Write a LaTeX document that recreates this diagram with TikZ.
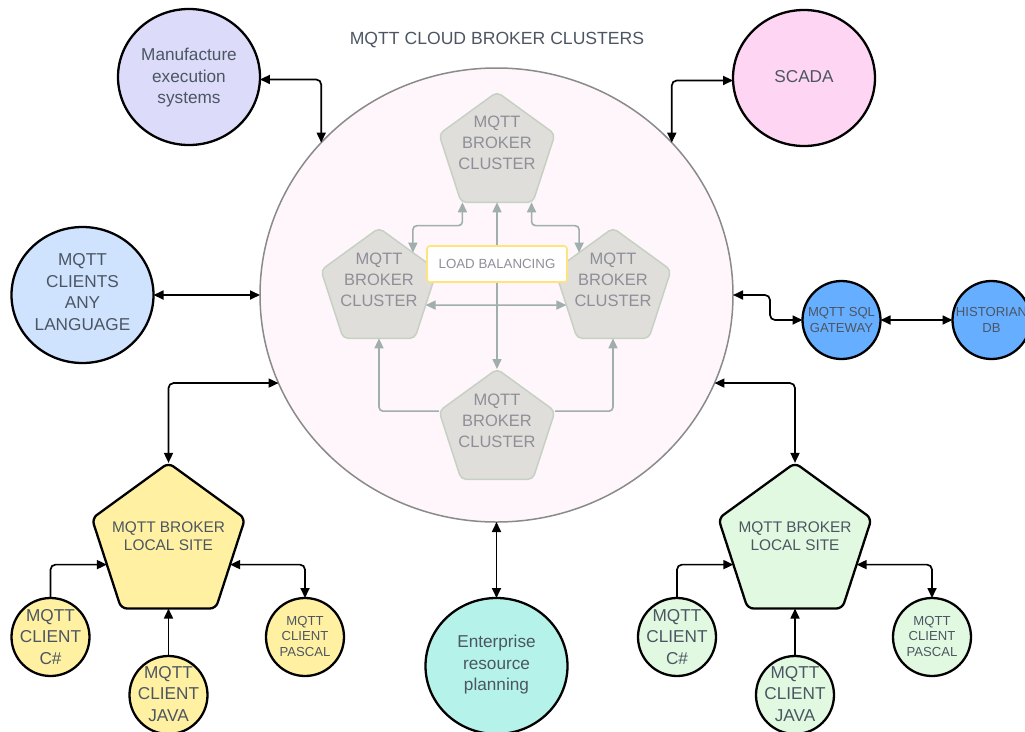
\documentclass[tikz,border=0pt]{standalone}
\usepackage{fontspec}
\setmainfont{Liberation Sans}
\usetikzlibrary{shapes.geometric,arrows.meta}
\definecolor{txtc}{HTML}{4C5662}
\definecolor{gtxt}{HTML}{8E8F98}
\definecolor{cloudfill}{HTML}{FEF6FA}
\definecolor{cloudline}{HTML}{8A8A8A}
\definecolor{gfill}{HTML}{DFDEDA}
\definecolor{gline}{HTML}{C6D1C4}
\definecolor{garrow}{HTML}{A0AFAB}
\definecolor{lbline}{HTML}{FFE37C}
\definecolor{mesfill}{HTML}{DCDCFA}
\definecolor{scadafill}{HTML}{FFD5F4}
\definecolor{calfill}{HTML}{CFE3FF}
\definecolor{erpfill}{HTML}{B5F3EA}
\definecolor{bluefill}{HTML}{66AEFF}
\definecolor{yelfill}{HTML}{FFF1A1}
\definecolor{grnfill}{HTML}{E2F9E1}
\tikzset{
  >={Triangle[length=10pt,width=9pt]},
  bigc/.style={ellipse, draw=black, line width=2.3pt, minimum width=142pt, minimum height=136pt, inner sep=0pt, outer sep=0pt},
  smallc/.style={circle, draw=black, line width=2.3pt, minimum size=78pt, inner sep=0pt, outer sep=0pt},
  pent/.style={regular polygon, regular polygon sides=5, minimum size=161pt, inner sep=0pt, outer sep=0pt, draw=black, line width=2.3pt, rounded corners=6pt},
  gpent/.style={regular polygon, regular polygon sides=5, minimum size=122pt, inner sep=0pt, outer sep=0pt, draw=gline, fill=gfill, line width=1.5pt, rounded corners=5pt},
  lbl/.style={text=txtc, align=center, inner sep=0pt, font=\fontsize{17.2}{21.5}\selectfont},
  slbl/.style={text=txtc, align=center, inner sep=0pt, font=\fontsize{13.1}{15.5}\selectfont},
  glbl/.style={text=gtxt, align=center, inner sep=0pt, font=\fontsize{16.5}{21}\selectfont},
  conn/.style={draw=black, line width=1.7pt, rounded corners=5pt},
  gconn/.style={draw=garrow, line width=1.6pt, rounded corners=4pt},
}
\begin{document}
\begin{tikzpicture}[x=1pt,y=-1pt]
\useasboundingbox (0,0) rectangle (1025,731);
% cloud
\node[ellipse, draw=cloudline, fill=cloudfill, line width=1.5pt, minimum width=473pt, minimum height=454pt, inner sep=0pt, outer sep=0pt] (cloud) at (496.5,295) {};
\node[text=txtc, inner sep=0pt, font=\fontsize{17.6}{21}\selectfont] (title) at (497,40) {MQTT CLOUD BROKER CLUSTERS};
% inner clusters
\node[gpent] (T) at (497,153) {};
\node[gpent] (L) at (379,289) {};
\node[gpent] (R) at (613,289) {};
\node[gpent] (B) at (497,430) {};
\node[glbl] (Tt) at (497,143) {MQTT\\BROKER\\CLUSTER};
\node[glbl] (Lt) at (379,280) {MQTT\\BROKER\\CLUSTER};
\node[glbl] (Rt) at (613,280) {MQTT\\BROKER\\CLUSTER};
\node[glbl] (Bt) at (497,421) {MQTT\\BROKER\\CLUSTER};
\draw[gconn,<->] (T.270) -- (B.90);
\draw[gconn,<->] (L.-19) -- (R.199);
\draw[gconn,<->] (L.47) -- ++(0,-27) -| (T.235);
\draw[gconn,<->] (R.133) -- ++(0,-27) -| (T.305);
\draw[gconn,->] (B.162) -| (L.270);
\draw[gconn,->] (B.18) -| (R.270);
\node[draw=lbline, fill=white, line width=1.6pt, rounded corners=3pt, minimum width=140pt, minimum height=36pt, inner sep=0pt, text=gtxt, font=\fontsize{13.3}{15}\selectfont] (lb) at (497,264) {LOAD BALANCING};
% outer systems
\node[bigc, fill=mesfill] (mes) at (189,77) {};
\node[lbl] (mest) at (189,78) {Manufacture\\execution\\systems};
\node[bigc, fill=scadafill] (scada) at (804,78) {};
\node[lbl] (scadat) at (804,77) {SCADA};
\node[bigc, fill=calfill] (cal) at (82.5,295) {};
\node[lbl] (calt) at (82.5,292) {MQTT\\CLIENTS\\ANY\\LANGUAGE};
\node[bigc, fill=erpfill] (erp) at (496.5,666) {};
\node[lbl] (erpt) at (496.5,665) {Enterprise\\resource\\planning};
\node[smallc, fill=bluefill] (sql) at (841.5,320) {};
\node[slbl] (sqlt) at (841.5,320) {MQTT SQL\\GATEWAY};
\node[smallc, fill=bluefill] (hist) at (991.5,320) {};
\node[slbl] (histt) at (991.5,320) {HISTORIAN\\DB};
% local sites
\node[pent, fill=yelfill] (yl) at (168.5,543.4) {};
\node[text=txtc, align=center, inner sep=0pt, font=\fontsize{15.4}{18}\selectfont] (ylt) at (168.5,536) {MQTT BROKER\\LOCAL SITE};
\node[pent, fill=grnfill] (gl) at (795,543.4) {};
\node[text=txtc, align=center, inner sep=0pt, font=\fontsize{15.4}{18}\selectfont] (glt) at (795,536) {MQTT BROKER\\LOCAL SITE};
\node[smallc, fill=yelfill] (c1) at (50.5,637) {};
\node[lbl] (c1t) at (50.5,637) {MQTT\\CLIENT\\C\#};
\node[smallc, fill=yelfill] (j1) at (168.5,695) {};
\node[lbl] (j1t) at (168.5,694) {MQTT\\CLIENT\\JAVA};
\node[smallc, fill=yelfill] (p1) at (305,637) {};
\node[slbl] (p1t) at (305,636) {MQTT\\CLIENT\\PASCAL};
\node[smallc, fill=grnfill] (c2) at (677,637) {};
\node[lbl] (c2t) at (677,637) {MQTT\\CLIENT\\C\#};
\node[smallc, fill=grnfill] (j2) at (795,695) {};
\node[lbl] (j2t) at (795,694) {MQTT\\CLIENT\\JAVA};
\node[smallc, fill=grnfill] (p2) at (932,637) {};
\node[slbl] (p2t) at (932,636) {MQTT\\CLIENT\\PASCAL};
% connectors
\draw[conn,<->] (mes.-2) -| (cloud.139);
\draw[conn,<->] (scada.182) -| (cloud.41);
\draw[conn,<->] (cal.east) -- (cloud.west);
\draw[conn,<->] (cloud.202) -| (yl.90);
\draw[conn,<->] (cloud.-22) -| (gl.90);
\draw[conn,<->] (cloud.east) -- ++(37,0) |- (sql.west);
\draw[conn,<->] (sql.east) -- (hist.west);
\draw[conn,<->] (cloud.south) -- (erp.north);
\draw[conn,->] (c1.north) |- (yl.199);
\draw[conn,->] (j1.north) -- (yl.270);
\draw[conn,<->] (yl.-19) -| (p1.north);
\draw[conn,->] (c2.north) |- (gl.199);
\draw[conn,->] (j2.north) -- (gl.270);
\draw[conn,<->] (gl.-19) -| (p2.north);
\end{tikzpicture}
\end{document}
